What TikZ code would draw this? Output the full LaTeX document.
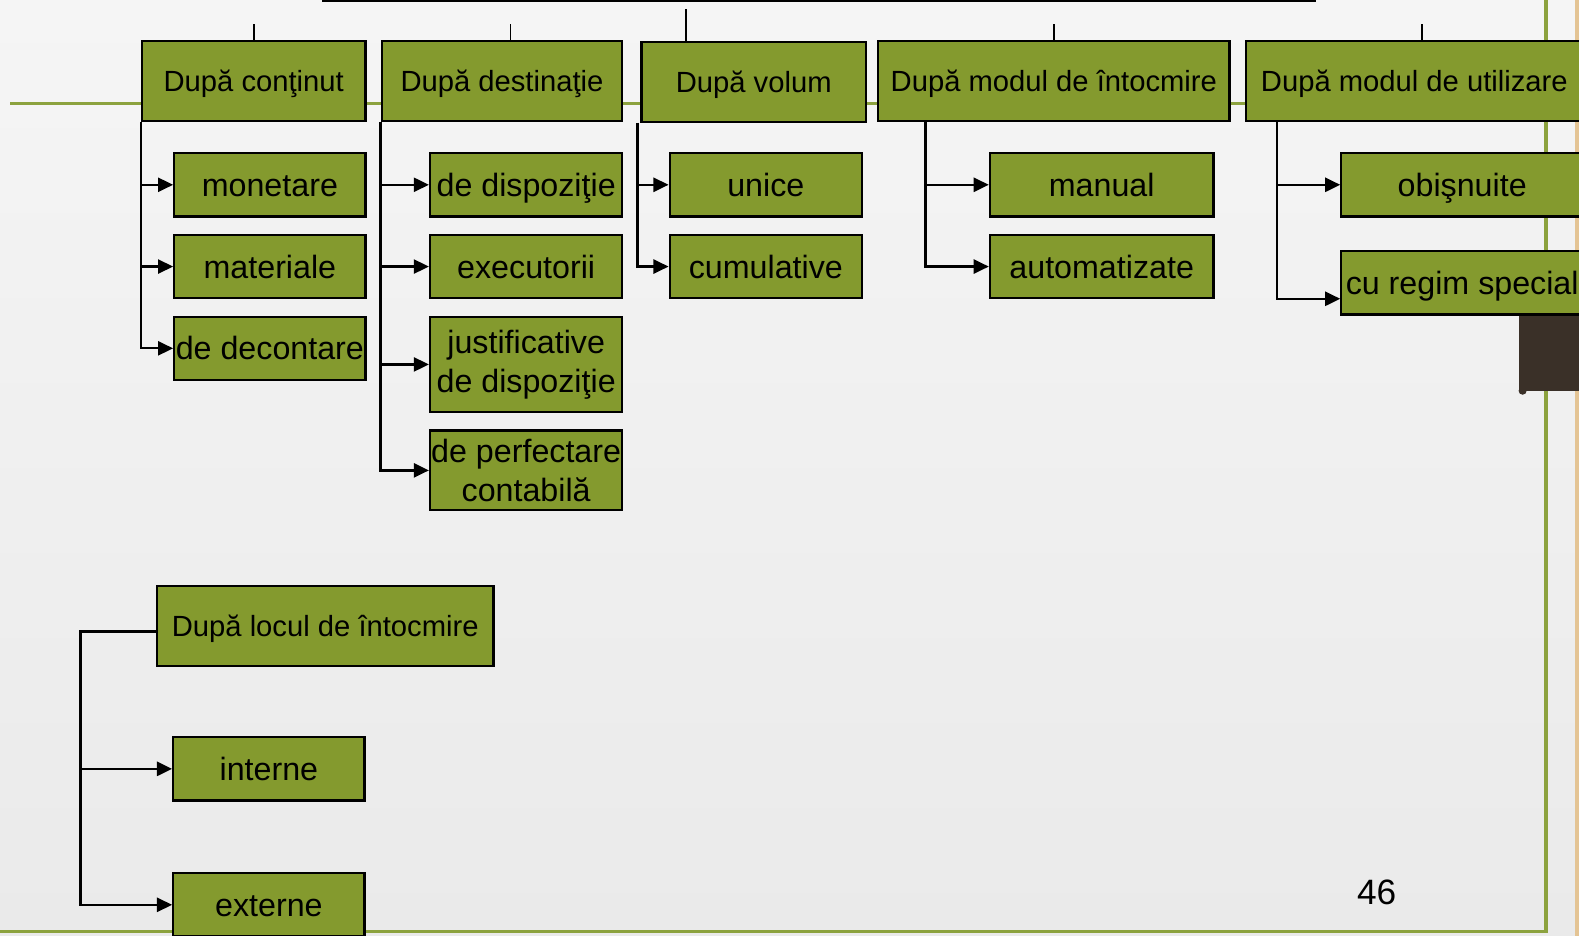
\documentclass[tikz,border=0pt]{standalone}
\usepackage{fontspec}
\setmainfont{Liberation Sans}
\usetikzlibrary{positioning}
\usetikzlibrary{calc}
\usetikzlibrary{arrows.meta}
\definecolor{boxgreen}{RGB}{132,154,46}
\definecolor{linegreen}{RGB}{140,162,62}
\definecolor{paperlight}{RGB}{245,245,245}
\definecolor{paperdark}{RGB}{234,234,234}
\definecolor{bark}{RGB}{58,48,40}
\definecolor{edgetan}{RGB}{228,196,148}
\tikzset{
  box/.style     = { rectangle, draw=black, line width=2.2pt, fill=boxgreen, inner sep=0pt, align=center },
  head/.style    = { box, minimum height=79pt, text height=20.8pt, text depth=0pt, font=\fontsize{29}{33}\selectfont },
  leaf/.style    = { box, minimum height=63pt, text height=22.9pt, text depth=0pt, font=\fontsize{32}{39}\selectfont },
  twoline/.style = { box, font=\fontsize{32}{39}\selectfont },
  link/.style    = { line width=2.3pt, -{Triangle[length=15pt,width=14pt]} },
  stub/.style    = { line width=1.5pt },
  frame/.style   = { linegreen, line width=3.5pt },
}

\begin{document}
\begin{tikzpicture}[x=1pt,y=-1pt,node distance=16pt]
  \clip (0,0) rectangle (1568,929);
  \shade [top color=paperlight,bottom color=paperdark] (0,0) rectangle (1568,929);

  % slide decoration
  \draw [edgetan, line width=3pt] (1566,0) -- (1566,929);
  \draw [frame] (10,103) -- (1535,103);
  \draw [frame] (1535,0) -- (1535,925) -- (0,925);
  \fill [bark] (1508,300) rectangle (1568,388);
  \fill [bark] (1512,388) circle (4);
  \draw [black, line width=3pt] (320,0.5) -- (1307,0.5);

  % headers
  \node (cont)  [head, minimum width=222pt] at (252,80.5)    {După conţinut};
  \node (dest)  [head, minimum width=239pt] at (498.5,80.5)  {După destinaţie};
  \node (vol)   [head, minimum width=223pt] at (748.5,81.5)  {După volum};
  \node (intoc) [head, minimum width=349pt] at (1046.5,80.5) {După modul de întocmire};
  \node (util)  [head, minimum width=335pt] at (1404.5,80.5) {După modul de utilizare};

  \draw [stub] (cont.north) -- ++(0,-16);
  \draw [stub] ([xshift=8.5pt]dest.north) -- ++(0,-16);
  \draw [stub] ([xshift=-67.5pt]vol.north) -- ++(0,-32);
  \draw [stub] (intoc.north) -- ++(0,-16);
  \draw [stub] ([xshift=7.5pt]util.north) -- ++(0,-16);

  % dupa continut
  \node (mon) [leaf, minimum width=190pt] at (268,183.5) {monetare};
  \node (mat) [leaf, minimum width=190pt, below=of mon]  {materiale};
  \node (dec) [leaf, minimum width=190pt, below=of mat]  {de decontare};

  % dupa destinatie
  \node (disp) [leaf, minimum width=191pt] at (522.5,183.5) {de dispoziţie};
  \node (exe)  [leaf, minimum width=191pt, below=of disp]   {executorii};
  \node (just) [twoline, minimum width=191pt, minimum height=95pt, below=of exe] {justificative\\de dispoziţie};
  \node (perf) [twoline, minimum width=191pt, minimum height=79pt, below=of just] {de perfectare\\contabilă};

  % dupa volum
  \node (uni) [leaf, minimum width=191pt] at (760.5,183.5) {unice};
  \node (cum) [leaf, minimum width=191pt, below=of uni]    {cumulative};

  % dupa modul de intocmire
  \node (man)  [leaf, minimum width=222pt] at (1094,183.5) {manual};
  \node (auto) [leaf, minimum width=222pt, below=of man]   {automatizate};

  % dupa modul de utilizare
  \node (obis) [leaf, minimum width=240pt] at (1452,183.5) {obişnuite};
  \node (spec) [leaf, minimum width=240pt, below=32pt of obis] {cu regim special};

  % dupa locul de intocmire
  \node (loc) [head, minimum width=334pt] at (323,621.5) {După locul de întocmire};
  \node (int) [leaf, minimum width=190pt] at (267,763.5) {interne};
  \node (ext) [leaf, minimum width=190pt] at (267,898.5) {externe};

  \draw [link] (cont.south west) |- (mon.west);
  \draw [link] (cont.south west) |- (mat.west);
  \draw [link] (cont.south west) |- (dec.west);

  \draw [link] (dest.south west) |- (disp.west);
  \draw [link] (dest.south west) |- (exe.west);
  \draw [link] (dest.south west) |- (just.west);
  \draw [link] (dest.south west) |- (perf.west);

  \draw [link] ([xshift=-3pt]vol.south west) |- (uni.west);
  \draw [link] ([xshift=-3pt]vol.south west) |- (cum.west);

  \draw [link] ([xshift=48pt]intoc.south west) |- (man.west);
  \draw [link] ([xshift=48pt]intoc.south west) |- (auto.west);

  \draw [link] ([xshift=32pt]util.south west) |- (obis.west);
  \draw [link] ([xshift=32pt]util.south west) |- ([yshift=-16pt]spec.west);

  \draw [link] ([yshift=-5.5pt]loc.west) -- ++(-75,0) |- (int.west);
  \draw [link] ([yshift=-5.5pt]loc.west) -- ++(-75,0) |- (ext.west);

  \node (pg) at (1367,886) {\fontsize{35}{40}\selectfont 46};
\end{tikzpicture}
\end{document}
